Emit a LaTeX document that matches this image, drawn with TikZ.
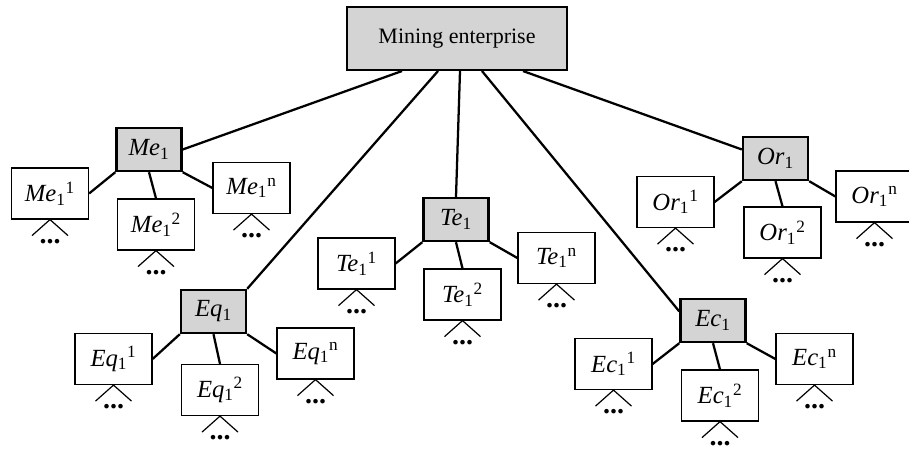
\documentclass[tikz,border=0pt]{standalone}
\usepackage{fontspec}
\setmainfont{Liberation Serif}
\usetikzlibrary{calc}
\definecolor{boxgray}{HTML}{D4D4D4}
\tikzset{
  rootbox/.style={draw,line width=1.8pt,fill=boxgray,minimum width=165pt,minimum height=47pt,inner sep=0pt,font=\fontsize{16.5}{18}\selectfont},
  groupbox/.style={draw,line width=1.8pt,fill=boxgray,minimum width=48.75pt,minimum height=32.25pt,inner sep=0pt,font=\fontsize{18.5}{20}\selectfont},
  itembox/.style={draw,line width=0.9pt,fill=white,minimum width=57.75pt,minimum height=38.25pt,inner sep=0pt,font=\fontsize{18.5}{20}\selectfont},
  link/.style={line width=1.7pt},
  fork/.style={line width=0.9pt},
  more/.style={inner sep=0pt,font=\fontsize{21}{22}\selectfont\bfseries}
}
\newcommand\grp[1]{\textit{#1}\textsubscript{1}}
\newcommand\itm[2]{\textit{#1}\textsubscript{1}\textsuperscript{#2}}

\begin{document}
\begin{tikzpicture}[x=0.75pt,y=-0.75pt]
  \useasboundingbox (0,0) rectangle (909,450);

  \node[rootbox] (root) at (457,38.5) {Mining enterprise};

  % second level
  \node[groupbox] (me) at (149,149.5) {\grp{Me}};
  \node[groupbox] (te) at (456,219.5) {\grp{Te}};
  \node[groupbox] (eq) at (213.5,311.5) {\grp{Eq}};
  \node[groupbox] (ec) at (713,320.5) {\grp{Ec}};
  \node[groupbox] (or) at (775.5,158.5) {\grp{Or}};

  % leaves
  \node[itembox] (me1) at (50,193.5) {\itm{Me}{1}};
  \node[itembox] (me2) at (156,224.5) {\itm{Me}{2}};
  \node[itembox] (men) at (251.5,188) {\itm{Me}{n}};
  \node[itembox] (te1) at (356.5,263.5) {\itm{Te}{1}};
  \node[itembox] (te2) at (462.5,294.5) {\itm{Te}{2}};
  \node[itembox] (ten) at (556.5,258) {\itm{Te}{n}};
  \node[itembox] (eq1) at (113.5,359) {\itm{Eq}{1}};
  \node[itembox] (eq2) at (220,390) {\itm{Eq}{2}};
  \node[itembox] (eqn) at (315.5,353.5) {\itm{Eq}{n}};
  \node[itembox] (ec1) at (613.5,364) {\itm{Ec}{1}};
  \node[itembox] (ec2) at (720,395.5) {\itm{Ec}{2}};
  \node[itembox] (ecn) at (814.5,359) {\itm{Ec}{n}};
  \node[itembox] (or1) at (675.5,202) {\itm{Or}{1}};
  \node[itembox] (or2) at (782.5,232.5) {\itm{Or}{2}};
  \node[itembox] (orn) at (874.5,196.5) {\itm{Or}{n}};

  \draw[link] ($(root.south)+(-55,0)$) -- (me.east);
  \draw[link] ($(root.south)+(-19,0)$) -- (eq.north east);
  \draw[link] ($(root.south)+(3,0)$) -- (te.north);
  \draw[link] ($(root.south)+(25,0)$) -- (ec.165);
  \draw[link] ($(root.south)+(66,0)$) -- (or.165);

  \foreach \g in {me,te,eq,ec,or} {
    \draw[link] (\g.south west) -- (\g1.east);
    \draw[link] (\g.south) -- (\g2.north);
    \draw[link] (\g.south east) -- (\g n.west);
  }

  % open subtrees below every leaf
  \foreach \c in {me1,me2,men,te1,te2,ten,eq1,eq2,eqn,ec1,ec2,ecn,or1,or2,orn} {
    \draw[fork] ($(\c.south)+(-18,16)$) -- (\c.south) -- ($(\c.south)+(18,16)$);
    \node[more] (\c-more) at ($(\c.south)+(0,22)$) {...};
  }
\end{tikzpicture}
\end{document}
